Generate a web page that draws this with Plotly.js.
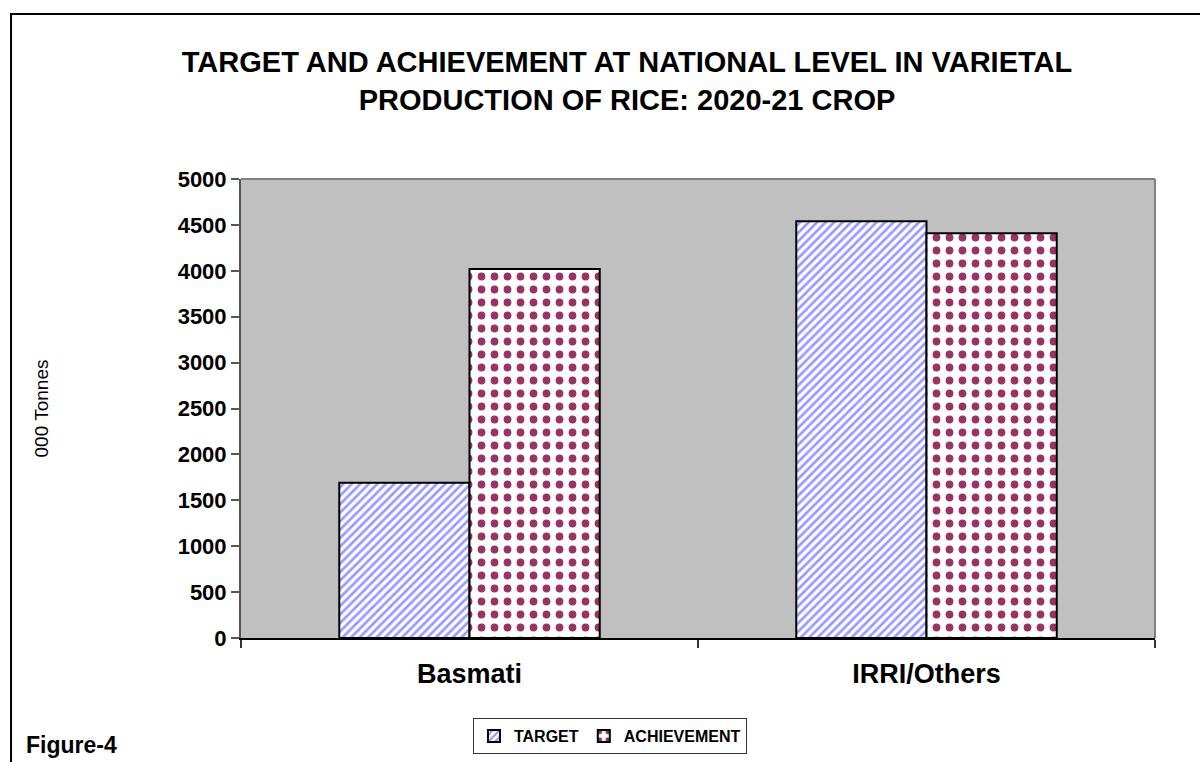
<!DOCTYPE html>
<html>
<head>
<meta charset="utf-8">
<script src="https://cdn.plot.ly/plotly-3.0.1.min.js"></script>
<style>
  html, body { margin: 0; padding: 0; background: #ffffff; }
  #chart { width: 1200px; height: 762px; }
</style>
</head>
<body>
<div id="chart"></div>
<script>
const categories = ['Basmati', 'IRRI/Others'];
const targetValues = [1690, 4540];
const achievementValues = [4020, 4410];
const seriesNames = ['TARGET', 'ACHIEVEMENT'];
const yTickValues = [0, 500, 1000, 1500, 2000, 2500, 3000, 3500, 4000, 4500, 5000];
const titleText = 'TARGET AND ACHIEVEMENT AT NATIONAL LEVEL IN VARIETAL<br>PRODUCTION OF RICE: 2020-21 CROP';
const yAxisTitle = '000 Tonnes';
const figureLabel = 'Figure-4';

const FONT = '"Liberation Sans", Arial, sans-serif';

const traces = [
  {
    type: 'bar',
    name: seriesNames[0],
    x: categories,
    y: targetValues,
    marker: {
      color: '#ffffff',
      line: { color: '#000000', width: 2 },
      pattern: { shape: '/', fgcolor: '#9999ff', bgcolor: '#ffffff', size: 6, solidity: 0.45 }
    },
    hoverinfo: 'skip'
  },
  {
    type: 'bar',
    name: seriesNames[1],
    x: categories,
    y: achievementValues,
    marker: {
      color: '#ffffff',
      line: { color: '#000000', width: 2 },
      pattern: { shape: '.', fgcolor: '#993366', bgcolor: '#ffffff', size: 13, solidity: 0.28 }
    },
    hoverinfo: 'skip'
  }
];

const layout = {
  width: 1200,
  height: 762,
  margin: { l: 241, r: 45, t: 179, b: 124, autoexpand: false },
  paper_bgcolor: '#ffffff',
  plot_bgcolor: '#c0c0c0',
  font: { family: FONT, color: '#000000' },
  barmode: 'group',
  bargap: 0.43,
  bargroupgap: 0,
  showlegend: true,
  title: {
    text: titleText,
    font: { family: FONT, size: 29, weight: 'bold', color: '#000000' },
    x: 0.5225,
    xanchor: 'center',
    xref: 'container',
    y: 0.905,
    yanchor: 'top',
    yref: 'container'
  },
  xaxis: {
    type: 'category',
    tickson: 'boundaries',
    ticks: 'outside',
    ticklen: 8,
    tickwidth: 2,
    tickcolor: '#333333',
    showline: true,
    linecolor: '#000000',
    linewidth: 2,
    showgrid: false,
    zeroline: false,
    ticklabelstandoff: 11,
    tickfont: { family: FONT, size: 27, weight: 'bold', color: '#000000' },
    fixedrange: true
  },
  yaxis: {
    range: [0, 5000],
    tickmode: 'array',
    tickvals: yTickValues,
    ticktext: yTickValues.map(String),
    ticks: 'outside',
    ticklen: 8,
    tickwidth: 2,
    tickcolor: '#555555',
    showline: true,
    linecolor: '#555555',
    linewidth: 2,
    showgrid: false,
    zeroline: false,
    tickfont: { family: FONT, size: 22, weight: 'bold', color: '#000000' },
    title: {
      text: yAxisTitle,
      font: { family: FONT, size: 19, color: '#000000' },
      standoff: 124
    },
    fixedrange: true
  },
  legend: {
    orientation: 'h',
    x: 0.4037,
    xanchor: 'center',
    y: -0.2135,
    yanchor: 'middle',
    bgcolor: '#ffffff',
    bordercolor: '#333333',
    borderwidth: 1,
    font: { family: FONT, size: 16, weight: 'bold', color: '#000000' },
    itemwidth: 30,
    traceorder: 'normal'
  },
  shapes: [
    { type: 'line', xref: 'paper', yref: 'paper', x0: 0, x1: 1, y0: 1, y1: 1,
      line: { color: '#808080', width: 2 } },
    { type: 'line', xref: 'paper', yref: 'paper', x0: 1, x1: 1, y0: 0, y1: 1,
      line: { color: '#808080', width: 2 } },
    { type: 'rect', xref: 'paper', yref: 'paper', x0: -0.2516, x1: 2, y0: -2, y1: 1.3595,
      line: { color: '#000000', width: 2 }, fillcolor: 'rgba(0,0,0,0)' }
  ],
  annotations: [
    { text: figureLabel, xref: 'paper', yref: 'paper', x: (24 - 241) / 914, y: (638 - 745) / 459,
      xanchor: 'left', yanchor: 'middle', showarrow: false,
      font: { family: FONT, size: 23, weight: 'bold', color: '#000000' } }
  ]
};

Plotly.newPlot('chart', traces, layout, { staticPlot: true, displayModeBar: false });
</script>
</body>
</html>
